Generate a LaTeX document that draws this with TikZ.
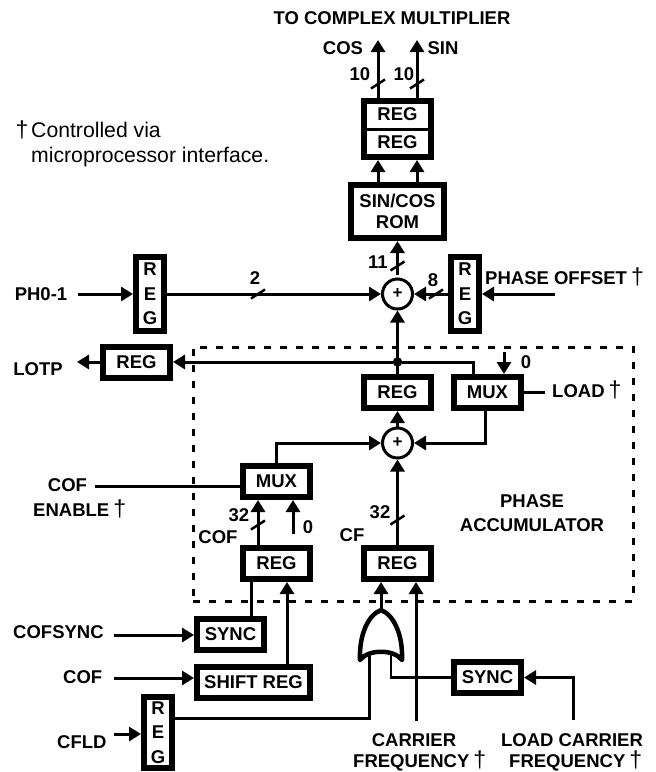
\documentclass[tikz,border=0pt]{standalone}
\usepackage{fontspec}
\setmainfont{Liberation Sans}
\usetikzlibrary{arrows.meta}
\begin{document}
\begin{tikzpicture}[x=1pt,y=-1pt,>={Triangle[length=12pt,width=14pt]},
  sig/.style={draw,line width=3pt},
  regbox/.style={draw,line width=6pt,inner sep=0,font=\fontsize{18.5}{21}\selectfont\bfseries,align=center,minimum width=67pt,minimum height=31pt},
  regvert/.style={draw,line width=6pt,inner sep=0,font=\fontsize{18.5}{24.5}\selectfont\bfseries,align=center,minimum width=28pt,minimum height=74pt},
  sumnode/.style={draw,circle,line width=3pt,inner sep=0,minimum size=30pt,font=\fontsize{17}{17}\selectfont\bfseries},
  lab/.style={inner sep=0,anchor=base,font=\fontsize{18.5}{18.5}\selectfont\bfseries},
  labl/.style={lab,anchor=base west},
  note/.style={inner sep=0,anchor=base west,font=\fontsize{21.2}{21.2}\selectfont},
  dotnode/.style={draw,circle,fill,inner sep=0,minimum size=9pt}]
%%
\newcommand{\busmark}[1]{\draw[line width=2.5pt] ([shift={(-7,4.5)}]#1) -- ([shift={(7,-4.5)}]#1);}
\newcommand{\dg}{{\normalfont\fontsize{23}{23}\selectfont\kern4pt †}}
%%
\useasboundingbox (0,0) rectangle (656,772);
\node[draw,line width=3pt,dash pattern=on 7pt off 9pt,minimum width=440pt,minimum height=254pt,inner sep=0] (accum) at (413,474) {};
%
\node[regbox,minimum height=56pt] (regs) at (397.5,129) {};
\draw[sig] (regs.west) -- (regs.east);
\node[lab,anchor=center] (regsa) at (397.5,114.5) {REG};
\node[lab,anchor=center] (regsb) at (397.5,142.5) {REG};
\node[regbox,minimum width=93pt,minimum height=53pt] (rom) at (397.5,211.5) {SIN/COS\\ROM};
\node[sumnode] (sumtop) at (397.5,294) {+};
\node[regvert] (regph) at (150,294) {R\\E\\G};
\node[regvert] (regoff) at (465,294) {R\\E\\G};
\node[regbox] (reglotp) at (136.5,362) {REG};
\node[dotnode] (junc) at (397.5,362) {};
\node[regbox] (regacc) at (397.5,392.5) {REG};
\node[regbox] (muxload) at (487.5,392.5) {MUX};
\node[sumnode] (sumacc) at (397.5,443) {+};
\node[regbox] (muxcof) at (276.5,481.5) {MUX};
\node[regbox] (regcof) at (276.5,563.5) {REG};
\node[regbox] (regcf) at (397.5,563.5) {REG};
\node[regbox] (synccof) at (230.5,634) {SYNC};
\node[regbox,minimum width=113pt] (shiftreg) at (253.5,682.5) {SHIFT REG};
\node[regbox] (synccf) at (487.5,677.5) {SYNC};
\node[regvert,minimum height=71pt] (regcfld) at (158,732.5) {R\\E\\G};
%
\coordinate (cosout) at (378,40);
\coordinate (sinout) at (417,40);
\coordinate (phin) at (78,294);
\coordinate (offin) at (555,294);
\coordinate (lotpout) at (77,362);
\coordinate (zeroa) at (504,352);
\coordinate (loadin) at (545,392);
\coordinate (cofen) at (95,486);
\coordinate (zerob) at (293,534);
\coordinate (cofsyncin) at (114,635);
\coordinate (cofin) at (114,678);
\coordinate (cfldin) at (114,734);
\coordinate (orout) at (381,610);
\coordinate (orina) at (369,655);
\coordinate (orinb) at (391,655);
\coordinate (carrin) at (416,721);
\coordinate (loadcin) at (573,720);
%
\draw[sig,->] ([xshift=-19.5pt]regs.north) -- (cosout);
\draw[sig,->] ([xshift=19.5pt]regs.north) -- (sinout);
\draw[sig,->] ([xshift=-19.5pt]rom.north) -- ([xshift=-19.5pt]regs.south);
\draw[sig,->] ([xshift=19.5pt]rom.north) -- ([xshift=19.5pt]regs.south);
\draw[sig,->] ([yshift=3pt]sumtop.north) -- (rom.south);
\draw[sig,->] (phin) -- (regph.west);
\draw[sig,->] (regph.east) -- (sumtop.west);
\draw[sig,->] (regoff.west) -- (sumtop.east);
\draw[sig,->] (offin) -- (regoff.east);
\draw[sig,->] (regacc.north) -- (sumtop.south);
\draw[sig,->] (junc) -- (reglotp.east);
\draw[sig,->] (reglotp.west) -- (lotpout);
\draw[sig] (junc) -| ([xshift=-14.5pt]muxload.north);
\draw[sig,->] (zeroa) -- (zeroa |- muxload.north);
\draw[sig] (muxload.east |- loadin) -- (loadin);
\draw[sig,->] (sumacc.north) -- (regacc.south);
\draw[sig,->] ([xshift=-2.5pt]muxload.south) |- (sumacc.east);
\draw[sig,->] (muxcof.north) |- (sumacc.west);
\draw[sig] (cofen) -- (cofen -| muxcof.west);
\draw[sig,->] ([xshift=-18.5pt]regcof.north) -- ([xshift=-18.5pt]muxcof.south);
\draw[sig,->] (zerob) -- (zerob |- muxcof.south);
\draw[sig,->] (regcf.north) -- (sumacc.south);
\draw[sig] ([xshift=20.5pt]synccof.north) -- ([xshift=-25.5pt]regcof.south);
\draw[sig,->] ([xshift=33.5pt]shiftreg.north) -- ([xshift=10.5pt]regcof.south);
\draw[sig,->] (cofsyncin) -- (synccof.west |- cofsyncin);
\draw[sig,->] (cofin) -- (shiftreg.west |- cofin);
\draw[sig,->] (cfldin) -- (regcfld.west |- cfldin);
\draw[sig] ([yshift=14.5pt]regcfld.east) -| (orina);
\draw[sig,->] (orout) -- (orout |- regcf.south);
\draw[line width=2.2pt] (synccf.west) -| (orinb);
\draw[sig,->] (carrin) -- (carrin |- regcf.south);
\draw[sig,->] (loadcin) |- (synccf.east);
%
\draw[line width=4.5pt,line join=round,fill=white] (360,660) .. controls (359,635) and (368,615) .. (orout) .. controls (394,615) and (403,635) .. (402,660) .. controls (394,649) and (368,649) .. cycle;
%
\coordinate (markcos) at (378,84);
\coordinate (marksin) at (417,84);
\coordinate (markrom) at (397.5,266);
\coordinate (markph) at (258,294);
\coordinate (markoff) at (436,294);
\coordinate (markcof) at (258,525);
\coordinate (markcf) at (397.5,520);
\busmark{markcos}
\busmark{marksin}
\busmark{markrom}
\busmark{markph}
\busmark{markoff}
\busmark{markcof}
\busmark{markcf}
%
\node[lab] (txttop) at (392,24) {TO COMPLEX MULTIPLIER};
\node[lab] (txtcos) at (343,54) {COS};
\node[lab] (txtsin) at (443,54) {SIN};
\node[lab] (txtcosw) at (360,80) {10};
\node[lab] (txtsinw) at (404,80) {10};
\node[lab] (txtromw) at (378,268) {11};
\node[lab] (txtphw) at (255,284) {2};
\node[lab] (txtoffw) at (433,286) {8};
\node[lab] (txtph) at (41,300) {PH0-1};
\node[labl] (txtoff) at (485,284) {PHASE OFFSET\dg};
\node[lab] (txtlotp) at (38,375) {LOTP};
\node[lab] (txtzeroa) at (526,368) {0};
\node[labl] (txtload) at (552,397) {LOAD\dg};
\node[lab] (txtphase) at (532,507) {PHASE};
\node[lab] (txtaccum) at (532,531) {ACCUMULATOR};
\node[lab] (txtcofen) at (67.5,491) {COF};
\node[labl] (txtenable) at (33,516) {ENABLE\dg};
\node[lab] (txtcofw) at (239,521) {32};
\node[lab] (txtcofr) at (218,543) {COF};
\node[lab] (txtzerob) at (308,533) {0};
\node[lab] (txtcfw) at (380,518) {32};
\node[lab] (txtcf) at (352,541) {CF};
\node[labl] (txtcofsync) at (13,638) {COFSYNC};
\node[labl] (txtcof) at (63,683) {COF};
\node[labl] (txtcfld) at (57,748) {CFLD};
\node[lab] (txtcarr) at (414,746) {CARRIER};
\node[labl] (txtcarrf) at (353,767) {FREQUENCY\dg};
\node[lab] (txtloadc) at (572,746) {LOAD CARRIER};
\node[labl] (txtloadf) at (509,767) {FREQUENCY\dg};
%
\node[lab,font=\fontsize{23}{23}\selectfont] (txtnoted) at (22,137) {†};
\node[note] (txtnotea) at (31,137) {Controlled via};
\node[note] (txtnoteb) at (31,162) {microprocessor interface.};
\end{tikzpicture}
\end{document}
